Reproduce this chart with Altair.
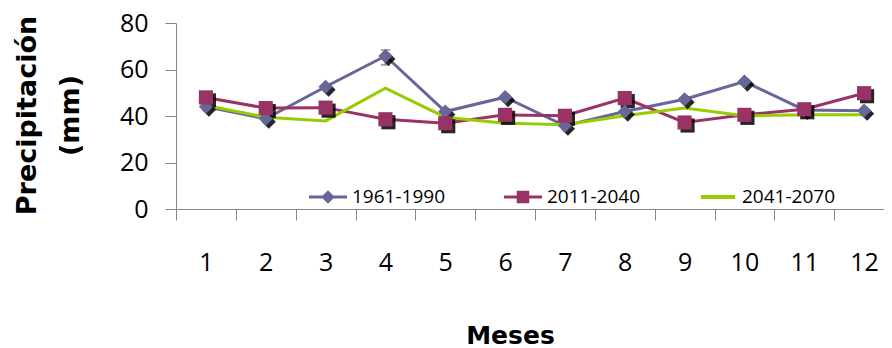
import altair as alt
import pandas as pd

months = list(range(1, 13))
series = ["1961-1990", "2011-2040", "2041-2070"]
s_1961_1990 = [44.0, 38.8, 52.6, 65.8, 41.9, 48.1, 35.8, 41.9, 47.2, 54.8, 42.6, 42.3]
s_2011_2040 = [48.0, 43.4, 43.6, 38.6, 36.9, 40.5, 40.1, 47.7, 37.2, 40.5, 42.9, 49.8]
s_2041_2070 = [44.5, 39.5, 37.9, 52.0, 39.5, 36.9, 36.2, 40.1, 43.4, 40.1, 40.5, 40.5]
colors = ["#666699", "#993366", "#99CC00"]
y_ticks = [0, 20, 40, 60, 80]
# error bar on month 4 of 1961-1990
err_month = [4]
err_low = [62.0]
err_high = [68.4]

rows = []
for name, vals in zip(series, [s_1961_1990, s_2011_2040, s_2041_2070]):
    for m, v in zip(months, vals):
        rows.append({"mes": m, "serie": name, "pp": v})
df = pd.DataFrame(rows)
err_df = pd.DataFrame({"mes": err_month, "lo": err_low, "hi": err_high})

legend_paths = [
    "M-1,-0.08L1,-0.08L1,0.08L-1,0.08Z M0,-0.36L0.36,0L0,0.36L-0.36,0Z",
    "M-1,-0.08L1,-0.08L1,0.08L-1,0.08Z M-0.33,-0.33L0.33,-0.33L0.33,0.33L-0.33,0.33Z",
    "M-0.9,-0.1L0.9,-0.1L0.9,0.1L-0.9,0.1Z",
]

axis_gray = "#868686"

x_enc = alt.X(
    "mes:O",
    sort=months,
    scale=alt.Scale(type="band", domain=months, range=[0, 718], paddingInner=0, paddingOuter=0),
    axis=alt.Axis(
        tickBand="extent", tickSize=11, tickColor=axis_gray, domainColor=axis_gray,
        labelFont="Open Sans", labelFontSize=25, labelColor="#000000", labelPadding=30,
        labelAngle=0, grid=False,
        title="Meses", titleFont="DejaVu Sans", titleFontSize=25, titleFontWeight="bold",
        titleColor="#000000", titleX=334, titleY=134, titleAlign="center",
        titleBaseline="alphabetic",
    ),
)
y_enc = alt.Y(
    "pp:Q",
    scale=alt.Scale(domain=[0, 80], nice=False),
    axis=alt.Axis(
        values=y_ticks, tickSize=11, tickColor=axis_gray, domainColor=axis_gray,
        labelFont="Open Sans", labelFontSize=25, labelColor="#000000", labelPadding=17,
        grid=False,
        title=["Precipitación", "(mm)"], titleFont="DejaVu Sans", titleFontSize=27,
        titleFontWeight="bold", titleColor="#000000", titleX=-141, titleY=92,
        titleAngle=270, titleAlign="center", titleBaseline="alphabetic", titleLineHeight=43,
    ),
)

base = alt.Chart(df)

def sub(name):
    return base.transform_filter(alt.datum.serie == name)

line_layers = [
    sub(n).mark_line(strokeWidth=3, color=c).encode(x=x_enc, y=y_enc)
    for n, c in zip(series, colors)
]

err_rule = alt.Chart(err_df).mark_rule(color="#808080", strokeWidth=1.5).encode(
    x=alt.X("mes:O"), y=alt.Y("lo:Q"), y2="hi:Q"
)
err_caps_lo = alt.Chart(err_df).mark_tick(color="#808080", size=9, thickness=2, orient="horizontal").encode(
    x=alt.X("mes:O"), y=alt.Y("lo:Q")
)
err_caps_hi = alt.Chart(err_df).mark_tick(color="#808080", size=9, thickness=2, orient="horizontal").encode(
    x=alt.X("mes:O"), y=alt.Y("hi:Q")
)

def marker_layers(name, shape, color):
    shadow = sub(name).mark_point(filled=True, shape=shape, size=200, color="#000000",
                                  opacity=0.85, xOffset=3, yOffset=3).encode(x=x_enc, y=y_enc)
    pts = sub(name).mark_point(filled=True, shape=shape, size=200, opacity=1,
                               color=color).encode(x=x_enc, y=y_enc)
    return shadow, pts

sh1, p1 = marker_layers(series[0], "diamond", colors[0])
sh2, p2 = marker_layers(series[1], "square", colors[1])

leg = alt.Legend(
    orient="none", legendX=133, legendY=155, direction="horizontal", title=None,
    symbolSize=1444, symbolStrokeWidth=0, symbolOpacity=1,
    labelFont="Open Sans", labelFontSize=19, labelColor="#000000",
    labelOffset=5, columnPadding=58, padding=0,
)
legend_layer = base.mark_point(filled=True, opacity=0, size=0).encode(
    x=x_enc, y=y_enc,
    color=alt.Color("serie:N", scale=alt.Scale(domain=series, range=colors), legend=leg),
    shape=alt.Shape("serie:N", scale=alt.Scale(domain=series, range=legend_paths), legend=leg),
)

chart = alt.layer(
    *line_layers, err_rule, err_caps_lo, err_caps_hi, sh1, sh2, p1, p2, legend_layer
).properties(
    width=708, height=186,
    autosize=alt.AutoSizeParams(type="none"),
    padding={"left": 168, "top": 15, "right": 0, "bottom": 139},
    background="white",
).configure_view(stroke=None)

chart.save("out.html", embed_options={"renderer": "svg", "actions": False})
